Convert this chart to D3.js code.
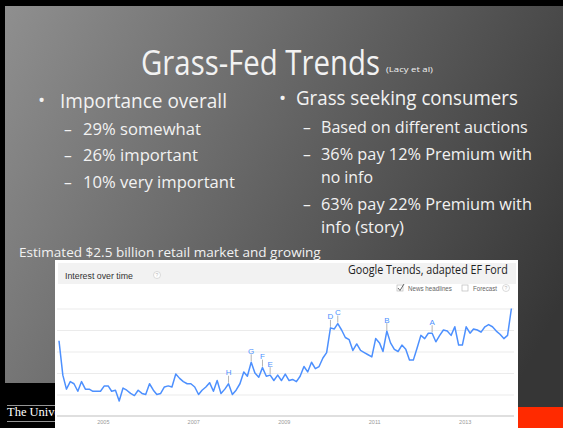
<!DOCTYPE html>
<html>
<head>
<meta charset="utf-8">
<script src="https://cdn.jsdelivr.net/npm/d3@7"></script>
<style>
body { margin: 0; background: #000; }
svg { display: block; }
</style>
</head>
<body>
<div id="slide"></div>
<script>
// Google Trends interest, monthly, Jan 2004 .. Jan 2014
const startMonth = new Date(2004, 0, 1);
const endMonth = new Date(2014, 0, 1);
const interest = [70,38,25,32,30,23,32,25,25,23,23,23,28,28,23,24,14,26,24,21,
    19,24,21,20,30,24,20,21,27,28,27,39,35,32,30,30,27,20,24,27,
    31,23,33,21,25,30,20,24,30,41,37,50,40,36,45,37,38,33,38,33,
    39,33,34,32,37,46,41,50,44,46,54,59,82,81,86,80,73,71,61,67,
    61,59,57,55,72,68,60,79,68,62,60,66,62,52,52,63,75,72,77,77,
    69,75,80,79,75,83,66,66,83,77,81,80,78,83,85,83,79,76,72,75,100];
const yearTicks = [2005, 2007, 2009, 2011, 2013];
const gridValues = [20, 40, 60, 80, 100];
const eventLetters = ["H", "G", "F", "E", "D", "C", "B", "A"];
const eventMonths = [45, 51, 54, 56, 72, 74, 87, 99];

// slide text
const title = "Grass-Fed Trends";
const titleNote = "(Lacy et al)";
const leftItems = ["Importance overall", "29% somewhat", "26% important", "10% very important"];
const rightItems = ["Grass seeking consumers", "Based on different auctions", "36% pay 12% Premium with",
    "no info", "63% pay 22% Premium with", "info (story)"];
const footNote = "Estimated $2.5 billion retail market and growing";
const chartTitle = "Interest over time";
const chartCredit = "Google Trends, adapted EF Ford";
const logoText = "The University of Tennessee";

const SLIDE_FONT = "'Open Sans', 'Noto Sans', sans-serif";
const CHART_FONT = "'Liberation Sans', Arial, sans-serif";

// text squeezed horizontally to a given width (scale, so the box shrinks too)
function addText(g, str, x, y, size, len, fill, family) {
    let t = g.append("text")
        .style("font-family", family || SLIDE_FONT)
        .style("font-size", size + "px")
        .style("fill", fill || "#f2f2f2")
        .text(str);
    let sx = 1;
    if (len) {
        let w = t.node().getComputedTextLength();
        if (w > 0) sx = len / w;
    }
    t.attr("transform", "translate(" + x + "," + y + ") scale(" + sx + ",1)");
    return t;
}

class Slide {
    constructor(parent, width, height) {
        this.width = width;
        this.height = height;
        this.svg = parent.append("svg")
            .attr("width", width)
            .attr("height", height);

        let grad = this.svg.append("defs").append("linearGradient")
            .attr("id", "bg")
            .attr("gradientUnits", "userSpaceOnUse")
            .attr("x1", 0).attr("y1", 0).attr("x2", 563).attr("y2", 300);
        grad.append("stop").attr("offset", 0).attr("stop-color", "#909090");
        grad.append("stop").attr("offset", 1).attr("stop-color", "#363636");

        this.svg.append("rect").attr("width", width).attr("height", height).attr("fill", "#000");
        this.svg.append("rect")
            .attr("x", 5).attr("y", 6)
            .attr("width", width - 5).attr("height", height - 6)
            .attr("fill", "url(#bg)");

        this.drawText();
        this.drawFooter();
        this.chart = new TrendsChart(this.svg);
    }

    drawText() {
        let g = this.svg.append("g").attr("class", "texts");

        addText(g, title, 141, 75, 35, 239);
        addText(g, titleNote, 386, 72, 7, 47);

        // left column
        addText(g, "\u2022", 38, 107, 19);
        addText(g, leftItems[0], 60, 108, 19.5, 167);
        let leftY = [135, 161, 188];
        let leftLen = [118, 115, 152];
        leftY.forEach(function(y, i) {
            addText(g, "\u2013", 64, y, 15.5);
            addText(g, leftItems[i + 1], 83, y, 15.5, leftLen[i]);
        });

        // right column
        addText(g, "\u2022", 279, 105, 19);
        addText(g, rightItems[0], 296, 105, 19.5, 222);
        let rightRows = [
            {y: 133, dash: true, len: 207},
            {y: 160, dash: true, len: 211},
            {y: 183, dash: false, len: 52},
            {y: 210, dash: true, len: 211},
            {y: 233, dash: false, len: 83}
        ];
        rightRows.forEach(function(r, i) {
            if (r.dash) addText(g, "\u2013", 303, r.y, 15.5);
            addText(g, rightItems[i + 1], 321, r.y, 15.5, r.len);
        });

        addText(g, footNote, 19, 257, 12.5, 302);
    }

    drawFooter() {
        let g = this.svg.append("g").attr("class", "footer");
        g.append("rect").attr("x", 0).attr("y", 383).attr("width", 120).attr("height", 45).attr("fill", "#000");
        g.append("line").attr("x1", 7).attr("x2", 120).attr("y1", 405.5).attr("y2", 405.5)
            .attr("stroke", "#bbb").attr("stroke-width", 0.8);
        g.append("line").attr("x1", 7).attr("x2", 120).attr("y1", 421.5).attr("y2", 421.5)
            .attr("stroke", "#bbb").attr("stroke-width", 0.8);
        addText(g, logoText, 7, 416, 12.5, null, "#fff", "'Liberation Serif', 'DejaVu Serif', serif");

        g.append("rect").attr("x", 518).attr("y", 407).attr("width", 45).attr("height", 21).attr("fill", "#ff2a00");
    }
}

class TrendsChart {
    constructor(parent) {
        this.parent = parent;
        this.g = parent.append("g").attr("id", "trends");

        this.left = 57;
        this.right = 514;

        this.x = d3.scaleTime().domain([startMonth, endMonth]).range([59, 511.4]);
        this.y = d3.scaleLinear().domain([0, 100]).range([416, 308.5]);

        this.drawPanel();
        this.drawGrid();
        this.drawLine();
        this.drawEvents();
    }

    drawPanel() {
        let g = this.g;
        g.append("rect").attr("x", 55).attr("y", 260).attr("width", 463).attr("height", 168).attr("fill", "#fff");
        g.append("rect").attr("x", 58).attr("y", 263).attr("width", 458).attr("height", 21).attr("fill", "#f2f2f2");

        addText(g, chartTitle, 65, 278.5, 9, 68, "#333", CHART_FONT);
        this.helpIcon(157, 275);

        addText(g, chartCredit, 348, 274, 12, 160, "#222");

        // checkboxes
        g.append("rect").attr("x", 397).attr("y", 285).attr("width", 6).attr("height", 6)
            .attr("fill", "#fff").attr("stroke", "#bbb").attr("stroke-width", 0.7);
        g.append("path").attr("d", "M398,288 L400,290.5 L404,284")
            .attr("fill", "none").attr("stroke", "#555").attr("stroke-width", 0.9);
        addText(g, "News headlines", 408, 291, 6.5, 44, "#666", CHART_FONT);
        g.append("rect").attr("x", 462).attr("y", 285).attr("width", 6).attr("height", 6)
            .attr("fill", "#fff").attr("stroke", "#bbb").attr("stroke-width", 0.7);
        addText(g, "Forecast", 473, 291, 6.5, 24, "#666", CHART_FONT);
        this.helpIcon(506, 288);
    }

    helpIcon(cx, cy) {
        this.g.append("circle").attr("cx", cx).attr("cy", cy).attr("r", 3.5)
            .attr("fill", "#fff").attr("stroke", "#ccc").attr("stroke-width", 0.7);
        this.g.append("text").attr("x", cx).attr("y", cy + 1.8)
            .attr("text-anchor", "middle")
            .style("font-family", CHART_FONT).style("font-size", "5px").style("fill", "#bbb")
            .text("?");
    }

    drawGrid() {
        let grid = this.g.append("g")
            .attr("class", "grid")
            .attr("transform", "translate(" + this.left + ",0)")
            .call(d3.axisLeft(this.y).tickValues(gridValues).tickSize(-(this.right - this.left)).tickFormat(""));
        grid.select(".domain").remove();
        grid.selectAll("line").attr("stroke", "#ebebeb");

        this.g.append("line")
            .attr("x1", this.left).attr("x2", this.right)
            .attr("y1", this.y(0)).attr("y2", this.y(0))
            .attr("stroke", "#d4d4d4").attr("stroke-width", 1.6);

        let axis = this.g.append("g")
            .attr("class", "x-axis")
            .attr("transform", "translate(-1.5," + this.y(0) + ")")
            .call(d3.axisBottom(this.x)
                .tickValues(yearTicks.map(function(yr) { return new Date(yr, 0, 1); }))
                .tickSize(0).tickPadding(4.5)
                .tickFormat(d3.timeFormat("%Y")));
        axis.select(".domain").remove();
        axis.selectAll("text")
            .style("font-family", CHART_FONT)
            .style("font-size", "5.5px")
            .style("fill", "#999");
    }

    drawLine() {
        let obj = this;
        let line = d3.line()
            .x(function(d, i) { return obj.x(d3.timeMonth.offset(startMonth, i)); })
            .y(function(d) { return obj.y(d); });

        this.g.append("path")
            .datum(interest)
            .attr("d", line)
            .attr("fill", "none")
            .attr("stroke", "#4d90fe")
            .attr("stroke-width", 1.5)
            .attr("stroke-linejoin", "round");
    }

    drawEvents() {
        let obj = this;
        let events = eventLetters.map(function(l, i) {
            return {letter: l, month: eventMonths[i], value: interest[eventMonths[i]]};
        });
        let items = this.g.selectAll(".event").data(events).enter()
            .append("g").attr("class", "event");

        items.append("line")
            .attr("x1", function(d) { return obj.x(d3.timeMonth.offset(startMonth, d.month)); })
            .attr("x2", function(d) { return obj.x(d3.timeMonth.offset(startMonth, d.month)); })
            .attr("y1", function(d) { return obj.y(d.value) - 1; })
            .attr("y2", function(d) { return obj.y(d.value) - 8; })
            .attr("stroke", "#b5b5b5").attr("stroke-width", 1);

        items.append("text")
            .attr("x", function(d) { return obj.x(d3.timeMonth.offset(startMonth, d.month)); })
            .attr("y", function(d) { return obj.y(d.value) - 8.5; })
            .attr("text-anchor", "middle")
            .style("font-family", CHART_FONT)
            .style("font-size", "8px")
            .style("fill", "#4d90fe")
            .text(function(d) { return d.letter; });
    }
}

let slide = new Slide(d3.select("#slide"), 563, 428);
</script>
</body>
</html>
